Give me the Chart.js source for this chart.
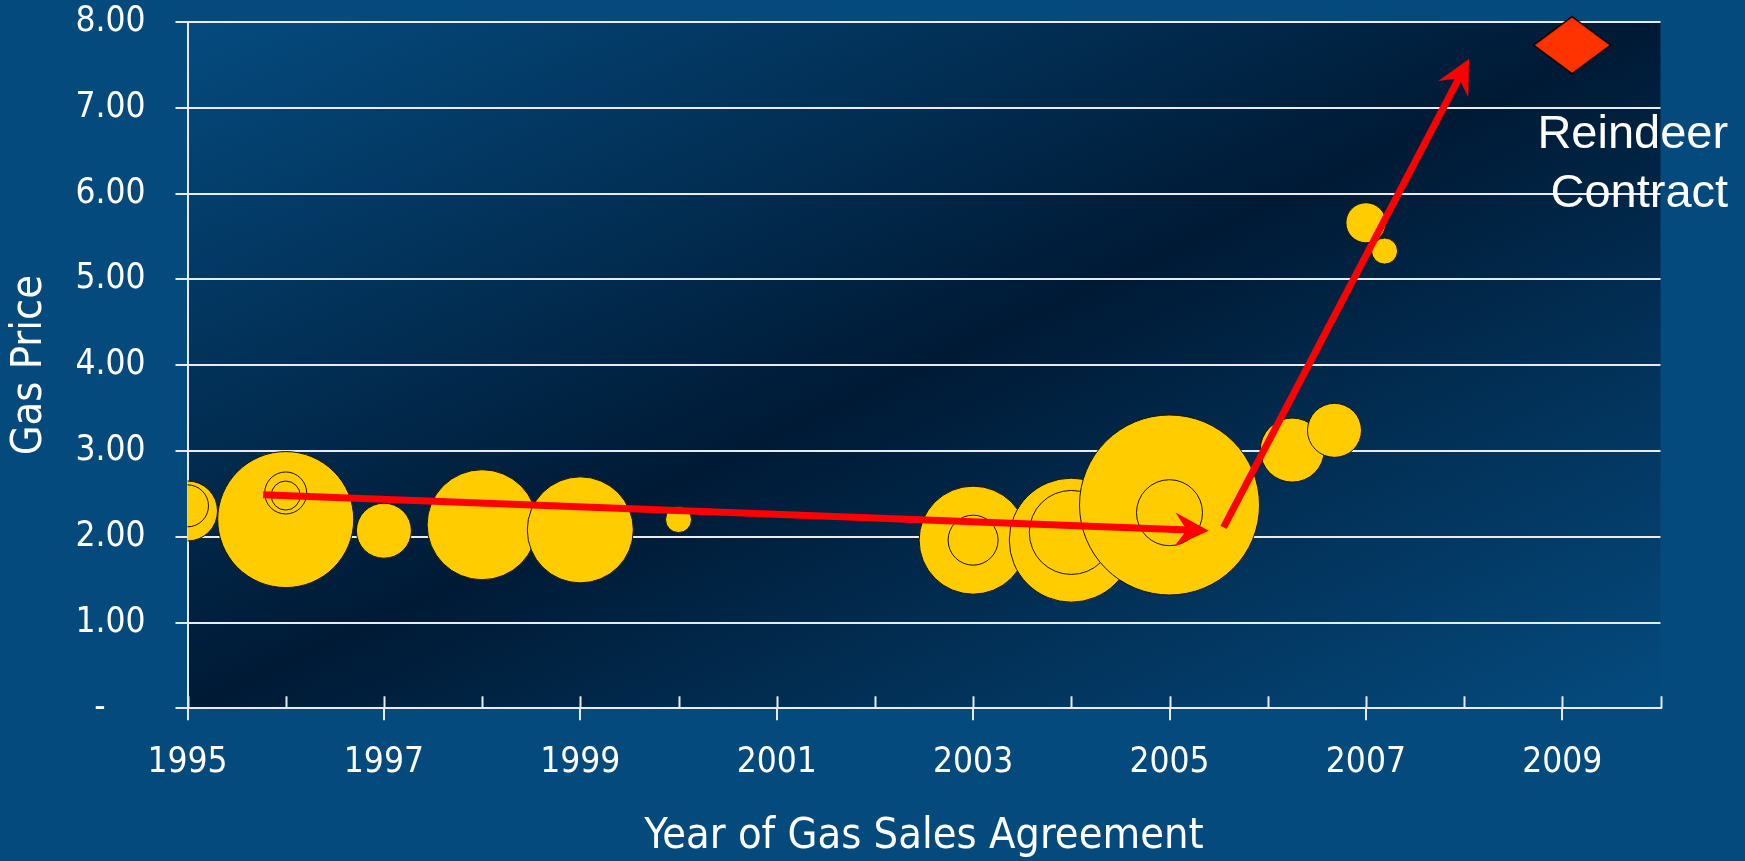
<!DOCTYPE html>
<html>
<head>
<meta charset="utf-8">
<script src="https://cdn.jsdelivr.net/npm/chart.js@4.4.1/dist/chart.umd.min.js"></script>
<style>
    html, body { margin: 0; padding: 0; background: #044a7d; overflow: hidden; }
    canvas { display: block; }
</style>
</head>
<body>
<canvas id="gasChart" width="1745" height="861"></canvas>
<script>
// Gas sales agreements: year, price, bubble size (contract volume)
const dealYears  = [1995, 1995, 1996, 1996, 1996, 1997, 1998, 1999, 2000, 2003, 2003, 2004, 2004, 2005, 2005, 2006.25, 2006.68, 2007, 2007.19];
const dealPrices = [2.30, 2.36, 2.20, 2.51, 2.48, 2.07, 2.14, 2.08, 2.20, 1.96, 1.96, 1.96, 2.05, 2.37, 2.28, 3.01, 3.24, 5.66, 5.33];
const dealSizes  = [30, 21, 68, 21, 14.5, 27.5, 55, 53, 13, 54, 25, 62, 42, 90, 33, 32, 27, 20, 13];

// Reindeer contract point
const contractYear = [2009.1];
const contractPrice = [7.73];
const contractLabel = ['Reindeer', 'Contract'];

// Trend arrows (from -> to, in data units)
const arrowFromYear  = [1995.77, 2005.55];
const arrowFromPrice = [2.49, 2.11];
const arrowToYear    = [2005.40, 2008.05];
const arrowToPrice   = [2.07, 7.57];

// Axis ticks
const yearMin = 1995, yearMax = 2010;
const priceMin = 0, priceMax = 8;

const tickFont = "'DejaVu Sans Condensed', 'DejaVu Sans', sans-serif";

// Diamond marker as an image (wider than tall)
function makeDiamond() {
    const c = document.createElement('canvas');
    c.width = 80; c.height = 60;
    const g = c.getContext('2d');
    g.beginPath();
    g.moveTo(40, 1.5);
    g.lineTo(78.5, 30);
    g.lineTo(40, 58.5);
    g.lineTo(1.5, 30);
    g.closePath();
    g.fillStyle = '#ff3300';
    g.fill();
    g.strokeStyle = '#000000';
    g.lineWidth = 1.5;
    g.stroke();
    return c;
}

// Dark diagonal gradient behind the plot
const plotBackground = {
    id: 'plotBackground',
    beforeDraw(chart) {
        const { ctx, chartArea: a } = chart;
        const cx = (a.left + a.right) / 2, cy = (a.top + a.bottom) / 2;
        const dx = (a.bottom - a.top) * 0.383, dy = (a.right - a.left) * 0.383;
        const grad = ctx.createLinearGradient(cx - dx, cy - dy, cx + dx, cy + dy);
        grad.addColorStop(0, '#054b7f');
        grad.addColorStop(0.5, '#001a35');
        grad.addColorStop(1, '#054b7f');
        ctx.save();
        ctx.fillStyle = grad;
        ctx.fillRect(a.left, a.top, a.right - a.left, a.bottom - a.top);
        ctx.restore();
    }
};

// Short tick marks above the x axis for every year
const innerTicks = {
    id: 'innerTicks',
    afterDraw(chart) {
        const { ctx, scales: { x }, chartArea: a } = chart;
        ctx.save();
        ctx.strokeStyle = '#e6ecf2';
        ctx.lineWidth = 2;
        for (let yr = yearMin; yr <= yearMax; yr++) {
            const px = Math.round(x.getPixelForValue(yr)) + 0.5;
            ctx.beginPath();
            ctx.moveTo(px, a.bottom);
            ctx.lineTo(px, a.bottom - 12);
            ctx.stroke();
        }
        ctx.restore();
    }
};

// Red arrows and contract label
const annotations = {
    id: 'annotations',
    afterDatasetsDraw(chart) {
        const { ctx, scales: { x, y } } = chart;
        ctx.save();
        ctx.strokeStyle = '#ff0000';
        ctx.fillStyle = '#ff0000';
        ctx.lineWidth = 7;
        ctx.lineCap = 'butt';
        for (let i = 0; i < arrowFromYear.length; i++) {
            const sx = x.getPixelForValue(arrowFromYear[i]);
            const sy = y.getPixelForValue(arrowFromPrice[i]);
            const tx = x.getPixelForValue(arrowToYear[i]);
            const ty = y.getPixelForValue(arrowToPrice[i]);
            const len = Math.hypot(tx - sx, ty - sy);
            const ux = (tx - sx) / len, uy = (ty - sy) / len;
            const nx = -uy, ny = ux;
            const headLen = 34, headW = 17, notch = 22;
            ctx.beginPath();
            ctx.moveTo(sx, sy);
            ctx.lineTo(tx - ux * (notch - 2), ty - uy * (notch - 2));
            ctx.stroke();
            ctx.beginPath();
            ctx.moveTo(tx, ty);
            ctx.lineTo(tx - ux * headLen + nx * headW, ty - uy * headLen + ny * headW);
            ctx.lineTo(tx - ux * notch, ty - uy * notch);
            ctx.lineTo(tx - ux * headLen - nx * headW, ty - uy * headLen - ny * headW);
            ctx.closePath();
            ctx.fill();
        }

        // label under the diamond
        const dx = x.getPixelForValue(contractYear[0]);
        const dy = y.getPixelForValue(contractPrice[0]);
        ctx.fillStyle = '#ffffff';
        ctx.font = "47px 'Liberation Sans', Arial, sans-serif";
        ctx.textAlign = 'right';
        ctx.textBaseline = 'alphabetic';
        ctx.fillText(contractLabel[0], dx + 156, dy + 103);
        ctx.fillText(contractLabel[1], dx + 156, dy + 162);
        ctx.restore();
    }
};

const ctx = document.getElementById('gasChart').getContext('2d');
const gasChart = new Chart(ctx, {
    type: 'bubble',
    data: {
        datasets: [{
            label: 'Gas sales agreements',
            data: dealYears.map((yr, i) => ({ x: yr, y: dealPrices[i], r: dealSizes[i] })),
            backgroundColor: '#ffcc00',
            borderColor: '#1a1400',
            borderWidth: 1,
            clip: 0
        }, {
            type: 'scatter',
            label: 'Reindeer Contract',
            data: contractYear.map((yr, i) => ({ x: yr, y: contractPrice[i] })),
            pointStyle: makeDiamond(),
            clip: false
        }]
    },
    options: {
        responsive: false,
        devicePixelRatio: 1,
        animation: false,
        events: [],
        layout: {
            autoPadding: false,
            padding: { top: 22, right: 84.5, left: 0, bottom: 0 }
        },
        plugins: {
            legend: { display: false },
            tooltip: { enabled: false }
        },
        scales: {
            x: {
                type: 'linear',
                min: yearMin,
                max: yearMax,
                afterFit: (scale) => {
                    scale.height = 152.7;
                    scale.paddingLeft = 0;
                    scale.paddingRight = 0;
                },
                border: { display: true, color: '#e6ecf2', width: 2 },
                grid: {
                    drawOnChartArea: false,
                    drawTicks: true,
                    tickLength: 12,
                    lineWidth: 2,
                    color: (c) => (c.tick && c.tick.value % 2 === 1 ? '#e6ecf2' : 'rgba(0,0,0,0)')
                },
                ticks: {
                    stepSize: 1,
                    autoSkip: false,
                    maxRotation: 0,
                    padding: 22,
                    color: '#ffffff',
                    font: { family: tickFont, size: 35 },
                    callback: (v) => (v % 2 === 1 ? String(v) : '')
                },
                title: {
                    display: true,
                    text: 'Year of Gas Sales Agreement',
                    color: '#ffffff',
                    font: { family: tickFont, size: 43, lineHeight: 1 },
                    padding: { top: 0, bottom: 3 }
                }
            },
            y: {
                min: priceMin,
                max: priceMax,
                afterFit: (scale) => {
                    scale.width = 187.5;
                    scale.paddingTop = 0;
                    scale.paddingBottom = 0;
                },
                border: { display: true, color: '#e6ecf2', width: 2 },
                grid: {
                    color: '#e6ecf2',
                    lineWidth: 2,
                    tickLength: 12
                },
                ticks: {
                    stepSize: 1,
                    padding: 30,
                    color: '#ffffff',
                    font: { family: tickFont, size: 35 },
                    callback: (v) => (v === 0 ? '-    ' : v.toFixed(2))
                },
                title: {
                    display: true,
                    text: 'Gas Price',
                    color: '#ffffff',
                    font: { family: tickFont, size: 43, lineHeight: 1 },
                    padding: { top: 8, bottom: 0 }
                }
            }
        }
    },
    plugins: [plotBackground, innerTicks, annotations]
});
</script>
</body>
</html>
